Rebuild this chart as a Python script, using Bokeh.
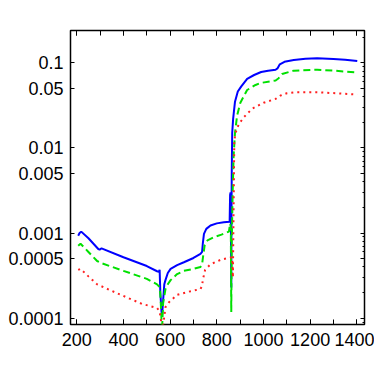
from bokeh.plotting import figure
from bokeh.models import FixedTicker, LinearAxis, LogAxis, Range1d
from bokeh.embed import file_html
from bokeh.resources import INLINE

# ---- data ----
blue_x = [206, 212, 219, 250, 292, 298, 306, 400, 500, 544, 552, 555, 558, 563, 566, 569, 575, 580,
          590, 602, 630, 659, 700, 730, 737, 740, 745, 755, 773, 800, 830, 855, 857, 859, 860, 862,
          863, 864, 866, 870, 878, 890,
          905, 930, 960, 990, 1020, 1052, 1060, 1070, 1090, 1130, 1180, 1230, 1300, 1350, 1402]
blue_y = [0.00093, 0.001, 0.00104, 0.00087, 0.00065, 0.00064, 0.00066, 0.00052, 0.00041, 0.000356,
          0.00035, 0.00037, 0.0002, 0.00012, 0.000112, 0.00015, 0.00025, 0.00028,
          0.00034, 0.00038, 0.00042, 0.000454, 0.00051, 0.00057, 0.0006, 0.00075, 0.00098, 0.00112,
          0.00123, 0.0013, 0.00134, 0.00136, 0.0028, 0.003, 0.0022, 0.00023,
          0.0015, 0.005, 0.015, 0.022, 0.035, 0.046,
          0.053, 0.065, 0.072, 0.078, 0.081, 0.083, 0.086, 0.096, 0.103, 0.108, 0.112, 0.113,
          0.111, 0.109, 0.105]

green_x = [206, 216, 250, 287, 309, 400, 500, 544, 556, 560, 565, 570, 580, 590, 602, 630, 659, 700,
           730, 737, 740, 748, 760, 790, 820, 852, 857, 860, 862, 864, 868, 872, 878, 887, 901, 930,
           966, 987, 1052, 1065, 1080, 1130, 1230, 1300, 1402]
green_y = [0.00071, 0.00075, 0.0006, 0.00047, 0.00044, 0.00036, 0.00029, 0.00025, 0.00023, 0.00015,
           0.00007, 0.00015, 0.00022, 0.00025, 0.00028, 0.00033, 0.00036, 0.00038,
           0.0004, 0.00043, 0.0005, 0.00072, 0.00082, 0.0009, 0.00096, 0.00104, 0.0013, 0.0012,
           0.000118, 0.0008, 0.003, 0.008, 0.015, 0.024, 0.034, 0.048,
           0.055, 0.058, 0.062, 0.066, 0.074, 0.081, 0.083, 0.081, 0.077]

red_x = [206, 216, 250, 287, 366, 480, 544, 555, 562, 566, 572, 580, 595, 630, 680, 730, 737, 740,
         750, 773, 820, 866, 869, 872, 875, 880, 894, 916, 952, 1001, 1052, 1073, 1100, 1130, 1244,
         1402]
red_y = [0.00037, 0.00038, 0.00031, 0.00025, 0.0002, 0.000147, 0.000132, 0.00012, 0.00009, 0.00007,
         0.00009, 0.000135, 0.000154, 0.000188, 0.000205, 0.00022, 0.00024, 0.00028,
         0.00037, 0.00043, 0.00049, 0.00052, 0.0003, 0.002, 0.012, 0.015, 0.019, 0.023, 0.029,
         0.034, 0.0377, 0.0413, 0.044, 0.045, 0.045, 0.0425]

y_ticks = [0.1, 0.05, 0.01, 0.005, 0.001, 0.0005, 0.0001]
y_tick_labels = ["0.1", "0.05", "0.01", "0.005", "0.001", "0.0005", "0.0001"]
x_ticks = [200, 400, 600, 800, 1000, 1200, 1400]
x_minor = [100 * k for k in range(2, 15)]

FONT = "Liberation Sans"
FS = "18px"

p = figure(width=374, height=374, output_backend="svg", toolbar_location=None,
           y_axis_type="log",
           x_range=Range1d(173, 1433), y_range=Range1d(8.43e-5, 0.24),
           min_border_left=70, min_border_right=10, min_border_top=30, min_border_bottom=50)
p.grid.visible = False
p.outline_line_color = "black"
p.outline_line_width = 1.5
p.background_fill_color = "white"
p.border_fill_color = "white"

p.line(blue_x, blue_y, line_color="#0000ff", line_width=2)
p.line(green_x, green_y, line_color="#00e000", line_width=2, line_dash="7 4")
p.line(red_x, red_y, line_color="#ff2020", line_width=2, line_dash="2 4")

# bottom axis
xa = p.xaxis[0]
xa.ticker = FixedTicker(ticks=x_ticks, minor_ticks=x_minor)
xa.major_tick_in = 5
xa.major_tick_out = 0
xa.minor_tick_in = 5
xa.minor_tick_out = 0
xa.axis_line_color = None
xa.major_tick_line_color = "black"
xa.minor_tick_line_color = "black"
xa.major_label_text_font = FONT
xa.major_label_text_font_size = FS
xa.major_label_text_color = "black"
xa.major_label_standoff = 8

# left axis
ya = p.yaxis[0]
ya.ticker = FixedTicker(ticks=y_ticks, minor_ticks=[])
ya.major_label_overrides = {t: l for t, l in zip(y_ticks, y_tick_labels)}
ya.major_tick_in = 4
ya.major_tick_out = 0
ya.axis_line_color = None
ya.major_tick_line_color = "black"
ya.major_label_text_font = FONT
ya.major_label_text_font_size = FS
ya.major_label_text_color = "black"
ya.major_label_standoff = 7

# top axis (ticks only, labels not painted)
top = LinearAxis(ticker=FixedTicker(ticks=x_ticks, minor_ticks=x_minor),
                 major_label_text_font_size="8px", major_label_text_color=None,
                 axis_line_color=None,
                 major_tick_in=5, major_tick_out=0, minor_tick_in=5, minor_tick_out=0,
                 major_label_standoff=0)
p.add_layout(top, "above")

# right axis (ticks only, log minor ticks)
minor_y = [k * 10.0 ** e for e in range(-5, 0) for k in range(1, 10)]
right = LogAxis(ticker=FixedTicker(ticks=y_ticks, minor_ticks=minor_y),
                major_label_text_font_size="8px", major_label_text_color=None,
                axis_line_color=None,
                major_tick_in=4, major_tick_out=0, minor_tick_in=2, minor_tick_out=0,
                major_label_standoff=0)
p.add_layout(right, "right")

open("out.html", "w").write(file_html(p, INLINE))
